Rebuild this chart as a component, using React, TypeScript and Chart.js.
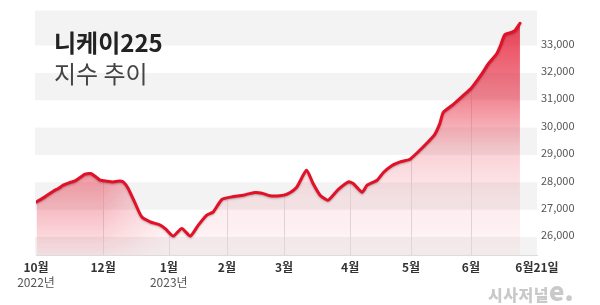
import React, { useEffect, useRef } from "react";
import { Chart, registerables } from "chart.js";

Chart.register(...registerables);

// Timeline position (0 = 10월 tick, 100 = 6월21일 tick) and Nikkei 225 values
const X_POS = [
  0.1, 1.8, 3.45, 4.45, 5.45, 6.8, 7.8, 8.8, 9.8, 10.9, 11.8, 12.8, 14.1, 15.4, 16.6, 17.4,
  18.4, 19.8, 21.1, 22.8, 24.8, 25.9, 27.4, 29.1, 30.8, 32.4, 34.1, 35.4, 37.1, 39.1, 41.4,
  43.4, 45.1, 46.7, 48.7, 50.0, 52.0, 54.0, 55.3, 56.7, 58.3, 60.3, 62.4, 63.3, 65.1, 66.1,
  68.1, 69.3, 71.0, 72.7, 74.65, 76.3, 78.0, 79.6, 80.6, 81.3, 83.3, 85.3, 87.0, 88.96, 90.3,
  91.96, 92.8, 93.6, 95.0, 95.6, 96.6,
];
const VALUES = [
  27287, 27469, 27677, 27775, 27896, 27994, 28052, 28176, 28297, 28322, 28224, 28078, 28041,
  28016, 28052, 28016, 27775, 27228, 26740, 26557, 26437, 26291, 26036, 26317, 26036, 26437,
  26802, 26922, 27374, 27469, 27531, 27622, 27604, 27513, 27513, 27557, 27812, 28442, 27958,
  27531, 27349, 27732, 28016, 27958, 27640, 27896, 28078, 28351, 28607, 28745, 28844, 29117,
  29427, 29755, 30145, 30557, 30849, 31177, 31469, 31954, 32333, 32697, 33036, 33401, 33485,
  33547, 33813,
];

const MONTH_TICKS = [0, 13.4, 26.5, 38.1, 49.5, 62.7, 74.85, 86.8, 100];
const MONTH_LABELS = ["10월", "12월", "1월", "2월", "3월", "4월", "5월", "6월", "6월21일"];
const YEAR_TICKS = [0, 26.5];
const YEAR_LABELS = ["2022년", "2023년"];
const Y_TICKS = [26000, 27000, 28000, 29000, 30000, 31000, 32000, 33000];
const BANDS = [
  [25000, 26000],
  [27000, 28000],
  [29000, 30000],
  [31000, 32000],
  [33000, 35000],
];

const FONT = "'Noto Sans CJK KR', 'Noto Sans', sans-serif";
const RED = "rgb(228,16,40)";

function makeFillPattern(chart: any): any {
  const { width, height, chartArea: ca } = chart;
  const c = document.createElement("canvas");
  c.width = width;
  c.height = height;
  const g = c.getContext("2d")!;
  const h = ca.bottom - ca.top;
  const st = (y: number) => Math.min(1, Math.max(0, (y - ca.top) / h));
  const vg = g.createLinearGradient(0, ca.top, 0, ca.bottom);
  vg.addColorStop(0, "rgba(228,20,45,0.85)");
  vg.addColorStop(st(25), "rgba(228,20,45,0.8)");
  vg.addColorStop(st(100), "rgba(228,20,45,0.5)");
  vg.addColorStop(st(150), "rgba(228,20,45,0.2)");
  vg.addColorStop(st(195), "rgba(228,20,45,0.09)");
  vg.addColorStop(1, "rgba(228,20,45,0.04)");
  g.fillStyle = vg;
  g.fillRect(0, 0, width, height);

  const b = document.createElement("canvas");
  b.width = width;
  b.height = height;
  const bg = b.getContext("2d")!;
  const hg = bg.createLinearGradient(ca.left, 0, ca.left + 130, 0);
  hg.addColorStop(0, "rgba(228,20,45,1)");
  hg.addColorStop(0.5, "rgba(228,20,45,1)");
  hg.addColorStop(1, "rgba(228,20,45,0)");
  bg.fillStyle = hg;
  bg.fillRect(0, 0, width, height);
  bg.globalCompositeOperation = "destination-in";
  const vg2 = bg.createLinearGradient(0, ca.top, 0, ca.bottom);
  vg2.addColorStop(0, "rgba(0,0,0,0.38)");
  vg2.addColorStop(st(175), "rgba(0,0,0,0.35)");
  vg2.addColorStop(1, "rgba(0,0,0,0.05)");
  bg.fillStyle = vg2;
  bg.fillRect(0, 0, width, height);
  g.drawImage(b, 0, 0);
  return chart.ctx.createPattern(c, "no-repeat");
}

const bandsPlugin = {
  id: "bands",
  beforeDraw(chart: any) {
    const { ctx, chartArea: ca, scales } = chart;
    const y = scales.y;
    ctx.save();
    ctx.fillStyle = "#f3f3f3";
    for (const [a, b] of BANDS) {
      const top = Math.max(ca.top, y.getPixelForValue(b));
      const bot = Math.min(ca.bottom, y.getPixelForValue(a));
      if (bot > top) ctx.fillRect(ca.left - 1, top, ca.right - ca.left + 1, bot - top);
    }
    ctx.restore();
  },
  beforeDatasetsDraw(chart: any) {
    const { ctx, chartArea: ca, scales } = chart;
    const line = chart.getDatasetMeta(0).dataset;
    if (!line) return;
    ctx.save();
    ctx.strokeStyle = "#e0e0e0";
    ctx.lineWidth = 1;
    for (const v of MONTH_TICKS) {
      const px = scales.x.getPixelForValue(v);
      const p = line.interpolate({ x: px }, "x");
      if (!p) continue;
      const xx = Math.round(px) + 0.5;
      ctx.beginPath();
      ctx.moveTo(xx, p.y);
      ctx.lineTo(xx, ca.bottom);
      ctx.stroke();
    }
    ctx.restore();
  },
  beforeDatasetDraw(chart: any) {
    const ctx = chart.ctx;
    ctx.shadowColor = "rgba(0,0,0,0.28)";
    ctx.shadowBlur = 2;
    ctx.shadowOffsetY = 1;
  },
  afterDatasetDraw(chart: any) {
    const ctx = chart.ctx;
    ctx.shadowColor = "rgba(0,0,0,0)";
    ctx.shadowBlur = 0;
    ctx.shadowOffsetY = 0;
  },
};

export default function App() {
  const ref = useRef<HTMLCanvasElement>(null);

  useEffect(() => {
    if (!ref.current) return;
    const chart = new Chart(ref.current, {
      type: "line",
      data: {
        datasets: [
          {
            data: X_POS.map((x, i) => ({ x, y: VALUES[i] })),
            borderColor: RED,
            borderWidth: 3,
            pointRadius: 0,
            tension: 0.2,
            borderJoinStyle: "round",
            borderCapStyle: "round",
            fill: "start",
            backgroundColor: (c: any) => {
              const ch = c.chart;
              if (!ch.chartArea) return "rgba(228,20,45,0.2)";
              return makeFillPattern(ch);
            },
          } as any,
        ],
      },
      options: {
        animation: false,
        responsive: true,
        maintainAspectRatio: false,
        events: [],
        layout: { padding: { left: 36, top: 10, right: 0, bottom: 0 } },
        plugins: { legend: { display: false }, tooltip: { enabled: false } },
        scales: {
          x: {
            type: "linear",
            position: "bottom",
            min: 0,
            max: 100,
            grid: { display: false, drawTicks: false },
            border: { display: true, color: "#dcdcdc", width: 1 },
            ticks: {
              autoSkip: false,
              maxRotation: 0,
              padding: 5,
              color: "#333",
              font: { family: FONT, size: 12, weight: "bold" },
              callback: (_v: any, i: number) => MONTH_LABELS[i],
            },
            afterBuildTicks: (s: any) => {
              s.ticks = MONTH_TICKS.map((v) => ({ value: v }));
            },
            afterFit: (s: any) => {
              s.height = 18;
            },
          },
          x2: {
            type: "linear",
            position: "bottom",
            min: 0,
            max: 100,
            grid: { display: false, drawTicks: false },
            border: { display: false },
            ticks: {
              autoSkip: false,
              maxRotation: 0,
              padding: 2,
              color: "#555",
              font: { family: FONT, size: 12, weight: "normal" },
              callback: (_v: any, i: number) => YEAR_LABELS[i],
            },
            afterBuildTicks: (s: any) => {
              s.ticks = YEAR_TICKS.map((v) => ({ value: v }));
            },
            afterFit: (s: any) => {
              s.height = 32;
            },
          },
          y: {
            type: "linear",
            position: "right",
            min: 25345,
            max: 34275,
            grid: { display: false, drawTicks: false },
            border: { display: false },
            ticks: {
              padding: 4,
              labelOffset: -2,
              color: "#555",
              font: { family: FONT, size: 11 },
              callback: (v: any) => Number(v).toLocaleString("en-US"),
            },
            afterBuildTicks: (s: any) => {
              s.ticks = Y_TICKS.map((v) => ({ value: v }));
            },
            afterFit: (s: any) => {
              s.width = 63;
            },
          },
        },
      } as any,
      plugins: [bandsPlugin],
    });
    return () => chart.destroy();
  }, []);

  return (
    <div style={{ position: "fixed", left: 0, top: 0, width: 600, height: 305, background: "#fff" }}>
      <canvas ref={ref} />
      <div
        style={{
          position: "absolute",
          left: 54,
          top: 30,
          fontFamily: FONT,
          fontSize: 24,
          lineHeight: "24px",
          fontWeight: 700,
          color: "#222",
          whiteSpace: "nowrap",
          pointerEvents: "none",
        }}
      >
        니케이225
      </div>
      <div
        style={{
          position: "absolute",
          left: 54,
          top: 61,
          fontFamily: FONT,
          fontSize: 24,
          lineHeight: "24px",
          fontWeight: 400,
          color: "#444",
          whiteSpace: "nowrap",
          pointerEvents: "none",
        }}
      >
        지수 추이
      </div>
      <div
        style={{
          position: "absolute",
          left: 488,
          top: 277,
          height: 26,
          fontFamily: FONT,
          fontWeight: 900,
          color: "#c9c9c9",
          whiteSpace: "nowrap",
          lineHeight: "26px",
          pointerEvents: "none",
        }}
      >
        <span style={{ fontSize: 16, letterSpacing: 0.5 }}>시사저널</span>
        <span style={{ fontSize: 26, letterSpacing: 0 }}>e.</span>
      </div>
    </div>
  );
}
